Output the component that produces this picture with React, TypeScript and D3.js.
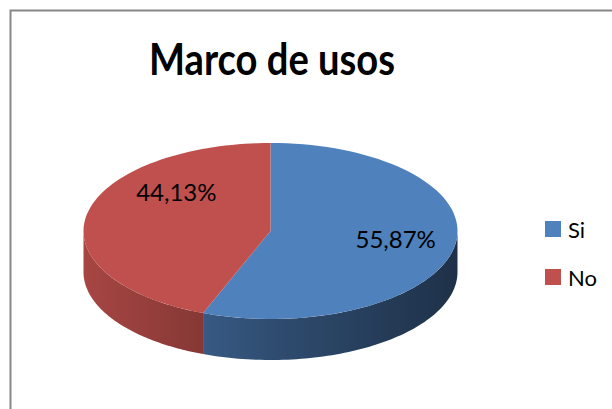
import * as d3 from "d3";
import React, { useEffect, useRef } from "react";

// chart data
const categories = ["Si", "No"];
const values = [55.87, 44.13];
const valueLabels = ["55,87%", "44,13%"];
const colors = ["#4F81BD", "#C0504D"];

const W = 612;
const H = 409;

const App = () => {
  const ref = useRef<SVGSVGElement>(null);

  useEffect(() => {
    const svg = d3.select(ref.current);
    svg.selectAll("*").remove();

    const font = "Lato, 'Open Sans', sans-serif";

    // chart area border (runs off the picture right and bottom)
    svg
      .append("rect")
      .attr("x", 10.5)
      .attr("y", 10.5)
      .attr("width", 700)
      .attr("height", 500)
      .attr("fill", "#fff")
      .attr("stroke", "#888")
      .attr("stroke-width", 2);

    // title
    svg
      .append("text")
      .attr("x", 272)
      .attr("y", 75)
      .attr("text-anchor", "middle")
      .attr("font-family", font)
      .attr("font-weight", "bold")
      .attr("font-size", 44)
      .attr("textLength", 246)
      .attr("lengthAdjust", "spacingAndGlyphs")
      .text("Marco de usos");

    // 3d pie geometry
    const cx = 270.5;
    const cy = 231;
    const rx = 187;
    const ry = 88;
    const depth = 41;

    const pt = (a: number, dy = 0, k = 1): [number, number] => [
      cx + rx * k * Math.sin(a),
      cy - ry * k * Math.cos(a) + dy,
    ];

    const arcs = d3.pie<number>().sort(null).value((d) => d)(values);

    const defs = svg.append("defs");
    colors.forEach((c, i) => {
      const base = d3.rgb(c);
      const g = defs
        .append("linearGradient")
        .attr("id", `side${i}`)
        .attr("gradientUnits", "userSpaceOnUse")
        .attr("x1", cx - rx)
        .attr("x2", cx + rx)
        .attr("y1", 0)
        .attr("y2", 0);
      [
        [0, 0.87],
        [0.5, 0.6],
        [1, 0.38],
      ].forEach(([o, f]) => {
        g.append("stop")
          .attr("offset", o)
          .attr("stop-color", d3.rgb(base.r * f, base.g * f, base.b * f).formatHex());
      });
    });

    const line = d3.line();
    const n = 80;

    // side walls (front half only)
    arcs.forEach((a, i) => {
      const s = Math.max(a.startAngle, Math.PI / 2);
      const e = Math.min(a.endAngle, (3 * Math.PI) / 2);
      if (e <= s) return;
      const top = d3.range(n + 1).map((j) => pt(s + ((e - s) * j) / n));
      const bottom = d3.range(n + 1).map((j) => pt(e - ((e - s) * j) / n, depth));
      svg
        .append("path")
        .attr("d", line([...top, ...bottom]) + "Z")
        .attr("fill", `url(#side${i})`);
    });

    // top faces
    arcs.forEach((a, i) => {
      const pts = d3
        .range(n + 1)
        .map((j) => pt(a.startAngle + ((a.endAngle - a.startAngle) * j) / n));
      svg
        .append("path")
        .attr("d", line([[cx, cy], ...pts]) + "Z")
        .attr("fill", colors[i]);
    });

    // data labels
    const nudge = [
      [2, -2],
      [29, -27],
    ];
    arcs.forEach((a, i) => {
      const mid = (a.startAngle + a.endAngle) / 2;
      const [x, y] = pt(mid, 0, 0.67);
      svg
        .append("text")
        .attr("x", x + nudge[i][0])
        .attr("y", y + nudge[i][1] + 8)
        .attr("text-anchor", "middle")
        .attr("font-family", font)
        .attr("font-size", 24)
        .attr("fill", "#000")
        .text(valueLabels[i]);
    });

    // legend
    const legendY = d3.scalePoint<string>().domain(categories).range([229, 277]);
    categories.forEach((c, i) => {
      const y = legendY(c) as number;
      svg
        .append("rect")
        .attr("x", 545)
        .attr("y", y - 8)
        .attr("width", 16)
        .attr("height", 16)
        .attr("fill", colors[i]);
      svg
        .append("text")
        .attr("x", 568)
        .attr("y", y + 9)
        .attr("font-family", font)
        .attr("font-size", 22)
        .attr("fill", "#000")
        .text(c);
    });
  }, []);

  return (
    <div style={{ position: "absolute", left: 0, top: 0 }}>
      <svg ref={ref} width={W} height={H} />
    </div>
  );
};

export default App;
